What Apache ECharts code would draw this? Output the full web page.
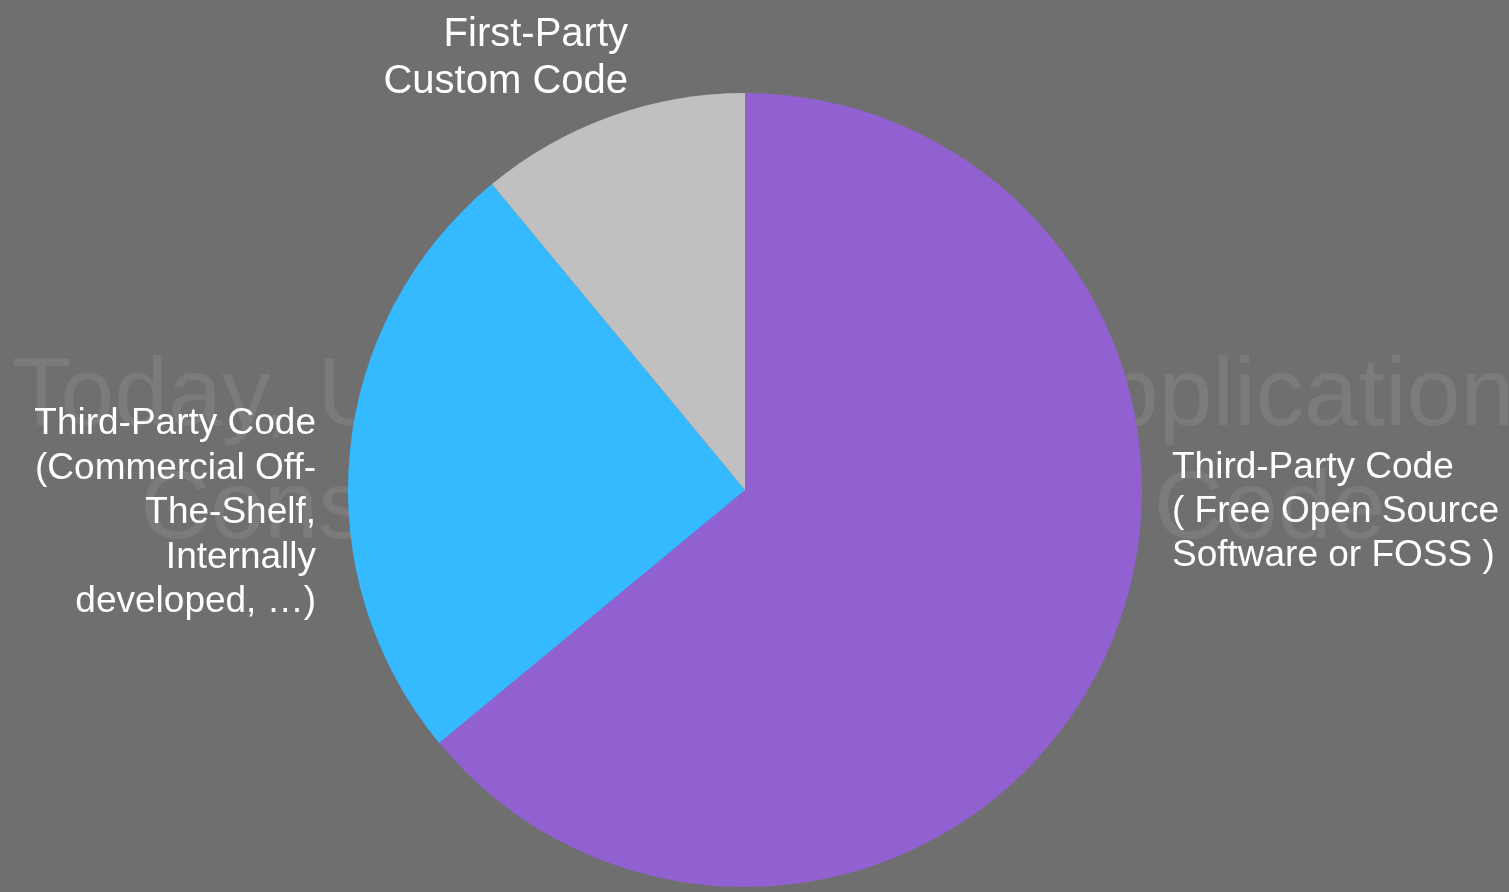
<!DOCTYPE html>
<html>
<head>
<meta charset="utf-8">
<script src="https://cdn.jsdelivr.net/npm/echarts@6/dist/echarts.min.js"></script>
<style>
html,body{margin:0;padding:0;background:#6f6f6f;}
#chart{width:1509px;height:892px;}
</style>
</head>
<body>
<div id="chart"></div>
<script>
const categories = [
  'Third-Party Code\n( Free Open Source\nSoftware or FOSS )',
  'Third-Party Code\n(Commercial Off-\nThe-Shelf,\nInternally\ndeveloped, \u2026)',
  'First-Party\nCustom Code'
];
const values = [64, 25, 11];
const colors = ['#9161d1', '#35baff', '#c0c0c0'];
const watermark = 'Today, Up to 90% of an Application\nConsists of Third-Party Code';

const FONT = '"Liberation Sans", Arial, Helvetica, sans-serif';
const chart = echarts.init(document.getElementById('chart'));
const labelStyle = [
  {x: 1172, y: 512, align: 'left', fontSize: 37, lineHeight: 44},
  {x: 316, y: 513, align: 'right', fontSize: 37, lineHeight: 44.5},
  {x: 628, y: 58, align: 'right', fontSize: 40, lineHeight: 47}
];
chart.setOption({
  backgroundColor: '#6f6f6f',
  animation: false,
  graphic: [{
    type: 'text',
    z: 0,
    x: 763,
    y: 342,
    style: {
      text: watermark,
      fontSize: 97,
      fontFamily: FONT,
      fill: '#7b7b7b',
      align: 'center',
      textAlign: 'center',
      verticalAlign: 'top',
      textVerticalAlign: 'top',
      lineHeight: 113
    }
  }],
  series: [{
    type: 'pie',
    z: 2,
    center: [745, 490],
    radius: 397,
    startAngle: 90,
    clockwise: true,
    avoidLabelOverlap: false,
    itemStyle: {borderWidth: 0},
    label: {
      show: true,
      position: 'outside',
      color: '#ffffff',
      fontSize: 37,
      fontFamily: FONT,
      lineHeight: 44,
      formatter: p => p.name
    },
    labelLine: {show: false},
    labelLayout: function (params) {
      const lp = labelStyle[params.dataIndex];
      return {x: lp.x, y: lp.y, align: lp.align, verticalAlign: 'middle'};
    },
    emphasis: {disabled: true},
    data: categories.map((c, i) => ({
      name: c,
      value: values[i],
      itemStyle: {color: colors[i]},
      label: {
        align: labelStyle[i].align,
        fontSize: labelStyle[i].fontSize,
        lineHeight: labelStyle[i].lineHeight
      }
    }))
  }]
});
</script>
</body>
</html>
